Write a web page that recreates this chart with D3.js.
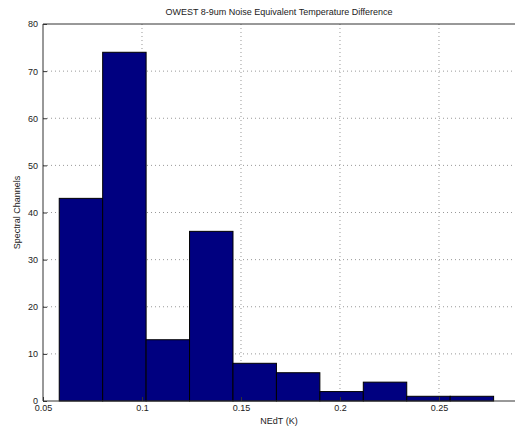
<!DOCTYPE html>
<html>
<head>
<meta charset="utf-8">
<script src="https://cdn.jsdelivr.net/npm/d3@7"></script>
<style>
  body { margin: 0; background: #fff; }
  text { font-family: "Liberation Sans", Arial, sans-serif; fill: #222; }
</style>
</head>
<body>
<div id="chart"></div>
<script>
// histogram bins (10 bins between min and max NEdT)
var binStart = 0.0582;
var binEnd = 0.2776;
var counts = [43, 74, 13, 36, 8, 6, 2, 4, 1, 1];
var xTicks = [0.05, 0.1, 0.15, 0.2, 0.25];
var yTicks = [0, 10, 20, 30, 40, 50, 60, 70, 80];

var width = 515, height = 429;
var padL = 43, padT = 24, padB = 401, padR = 515;

var svg = d3.select('#chart').append('svg')
    .attr('width', width).attr('height', height);

var x = d3.scaleLinear().domain([0.05, 0.2884]).range([padL, padR]);
var y = d3.scaleLinear().domain([0, 80]).range([padB, padT]);

var binW = (binEnd - binStart) / counts.length;
var bins = counts.map(function(c, i) {
    return {x0: binStart + i * binW, x1: binStart + (i + 1) * binW, n: c};
});

// dotted grid
var grid = svg.append('g');
grid.selectAll('.gx').data(xTicks.slice(1)).enter().append('line')
    .attr('x1', function(d) {return x(d);}).attr('x2', function(d) {return x(d);})
    .attr('y1', padT).attr('y2', padB)
    .style('stroke', '#999').style('stroke-width', 1).style('stroke-dasharray', '1,3');
grid.selectAll('.gy').data(yTicks.slice(1, -1)).enter().append('line')
    .attr('y1', function(d) {return y(d);}).attr('y2', function(d) {return y(d);})
    .attr('x1', padL).attr('x2', padR)
    .style('stroke', '#999').style('stroke-width', 1).style('stroke-dasharray', '1,3');

// bars
svg.append('g').selectAll('rect').data(bins).enter().append('rect')
    .attr('x', function(d) {return x(d.x0);})
    .attr('y', function(d) {return y(d.n);})
    .attr('width', function(d) {return x(d.x1) - x(d.x0);})
    .attr('height', function(d) {return padB - y(d.n);})
    .style('fill', '#000080')
    .style('stroke', '#000').style('stroke-width', 1);

// axes
var xAxis = d3.axisBottom(x).tickValues(xTicks).tickSize(-4).tickPadding(4)
    .tickFormat(function(d) {return String(+d.toFixed(2));});
var gx = svg.append('g').attr('transform', 'translate(0,' + padB + ')').call(xAxis);
var yAxis = d3.axisLeft(y).tickValues(yTicks).tickSize(-4).tickPadding(5);
var gy = svg.append('g').attr('transform', 'translate(' + padL + ',0)').call(yAxis);
[gx, gy].forEach(function(g) {
    g.select('.domain').style('stroke', '#333');
    g.selectAll('.tick line').style('stroke', '#333');
    g.selectAll('text').style('font-size', '9px').style('fill', '#222')
        .style('font-family', '"Liberation Sans", Arial, sans-serif');
});
gx.select('.domain').attr('d', 'M' + padL + ',0H' + padR);
gy.select('.domain').attr('d', 'M0,' + padB + 'V' + padT);

// top frame line
svg.append('line').attr('x1', padL).attr('x2', padR).attr('y1', padT).attr('y2', padT)
    .style('stroke', '#333');

// labels
svg.append('text').attr('x', 279).attr('y', 15).attr('text-anchor', 'middle')
    .style('font-size', '9px').text('OWEST 8-9um Noise Equivalent Temperature Difference');
svg.append('text').attr('x', 279).attr('y', 424).attr('text-anchor', 'middle')
    .style('font-size', '9px').text('NEdT (K)');
svg.append('text').attr('transform', 'translate(20,' + (padT + padB) / 2 + ') rotate(-90)')
    .attr('text-anchor', 'middle').style('font-size', '9px').text('Spectral Channels');
</script>
</body>
</html>
